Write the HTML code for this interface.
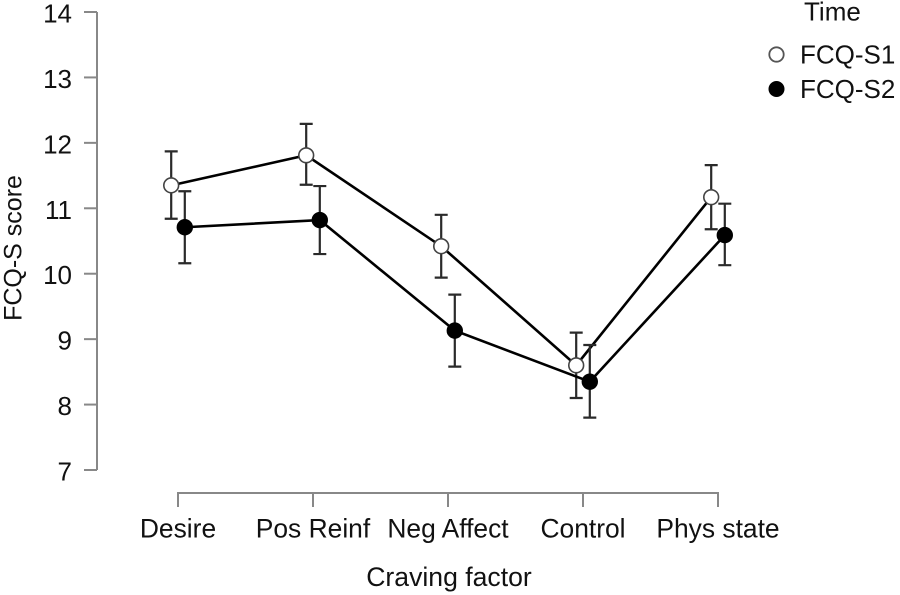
<!DOCTYPE html>
<html>
<head>
<meta charset="utf-8">
<style>
html,body{margin:0;padding:0;background:#fff;}
svg{display:block;font-family:"Liberation Sans",sans-serif;fill:#111;}
</style>
</head>
<body>
<svg id="chart" width="900" height="595" viewBox="0 0 900 595" xmlns="http://www.w3.org/2000/svg">
<rect width="900" height="595" fill="#fff"/>
<text transform="translate(21.5,248) rotate(-90)" font-size="25" text-anchor="middle">FCQ-S score</text>
<text x="449" y="586" font-size="26.6" text-anchor="middle">Craving factor</text>
<text x="804" y="20.5" font-size="26">Time</text>
<circle cx="776.5" cy="54.5" r="7.2" fill="#fff" stroke="#555" stroke-width="1.8"/>
<text x="800" y="63.5" font-size="26">FCQ-S1</text>
<circle cx="776.5" cy="89" r="8" fill="#000"/>
<text x="800" y="98" font-size="26">FCQ-S2</text>
</svg>
<script>
const categories = ["Desire", "Pos Reinf", "Neg Affect", "Control", "Phys state"];
const yTicks = [7, 8, 9, 10, 11, 12, 13, 14];
const s1Mean = [11.35, 11.81, 10.42, 8.60, 11.17];
const s1Upper = [11.87, 12.29, 10.90, 9.10, 11.66];
const s1Lower = [10.84, 11.36, 9.94, 8.10, 10.68];
const s2Mean = [10.71, 10.82, 9.13, 8.35, 10.59];
const s2Upper = [11.26, 11.34, 9.68, 8.91, 11.07];
const s2Lower = [10.16, 10.30, 8.58, 7.80, 10.13];

const NS = "http://www.w3.org/2000/svg";
const svg = document.getElementById("chart");
const yScale = v => 470 - (v - 7) * (458 / 7);
const xScale = i => 178 + i * 135;
const axisColor = "#888";
const errColor = "#2a2a2a";

function make(tag, attrs) {
  const el = document.createElementNS(NS, tag);
  for (const k in attrs) el.setAttribute(k, attrs[k]);
  svg.appendChild(el);
  return el;
}

const yAxis = make("line", {x1: 97, x2: 97, y1: yScale(7), y2: yScale(14), stroke: axisColor, "stroke-width": 2});



yTicks.forEach(t => {
  const tick = make("line", {x1: 84, x2: 97, y1: yScale(t), y2: yScale(t), stroke: axisColor, "stroke-width": 2});
  
  
  const label = make("text", {x: 72, y: yScale(t) + 10.5, "font-size": 26, "text-anchor": "end"});
  label.textContent = t;
  
  
});

const xAxis = make("line", {x1: xScale(0), x2: xScale(categories.length - 1), y1: 493, y2: 493, stroke: axisColor, "stroke-width": 2});



categories.forEach((c, i) => {
  const tick = make("line", {x1: xScale(i), x2: xScale(i), y1: 492, y2: 507, stroke: axisColor, "stroke-width": 2});
  
  
  const label = make("text", {x: xScale(i), y: 537.5, "font-size": 26.4, "text-anchor": "middle"});
  label.textContent = c;
  
  
});

function drawSeries(name, mean, upper, lower, offset, fill, stroke, radius) {
  const px = i => xScale(i) + offset;
  const path = make("polyline", {
    points: mean.map((v, i) => px(i) + "," + yScale(v)).join(" "),
    fill: "none", stroke: "#000", "stroke-width": 2.6
  });
  
  
  mean.forEach((v, i) => {
    const d = "M" + (px(i) - 6.5) + " " + yScale(upper[i]) + "H" + (px(i) + 6.5) +
      "M" + px(i) + " " + yScale(upper[i]) + "V" + yScale(lower[i]) +
      "M" + (px(i) - 6.5) + " " + yScale(lower[i]) + "H" + (px(i) + 6.5);
    const err = make("path", {d: d, fill: "none", stroke: errColor, "stroke-width": 2.2});
    
    
    const pt = make("circle", {cx: px(i), cy: yScale(v), r: radius, fill: fill, stroke: stroke, "stroke-width": 1.6});
    
    
  });
}

drawSeries("s1", s1Mean, s1Upper, s1Lower, -6.8, "#fff", "#444", 7.4);
drawSeries("s2", s2Mean, s2Upper, s2Lower, 6.8, "#000", "#000", 7.4);
</script>
</body>
</html>
